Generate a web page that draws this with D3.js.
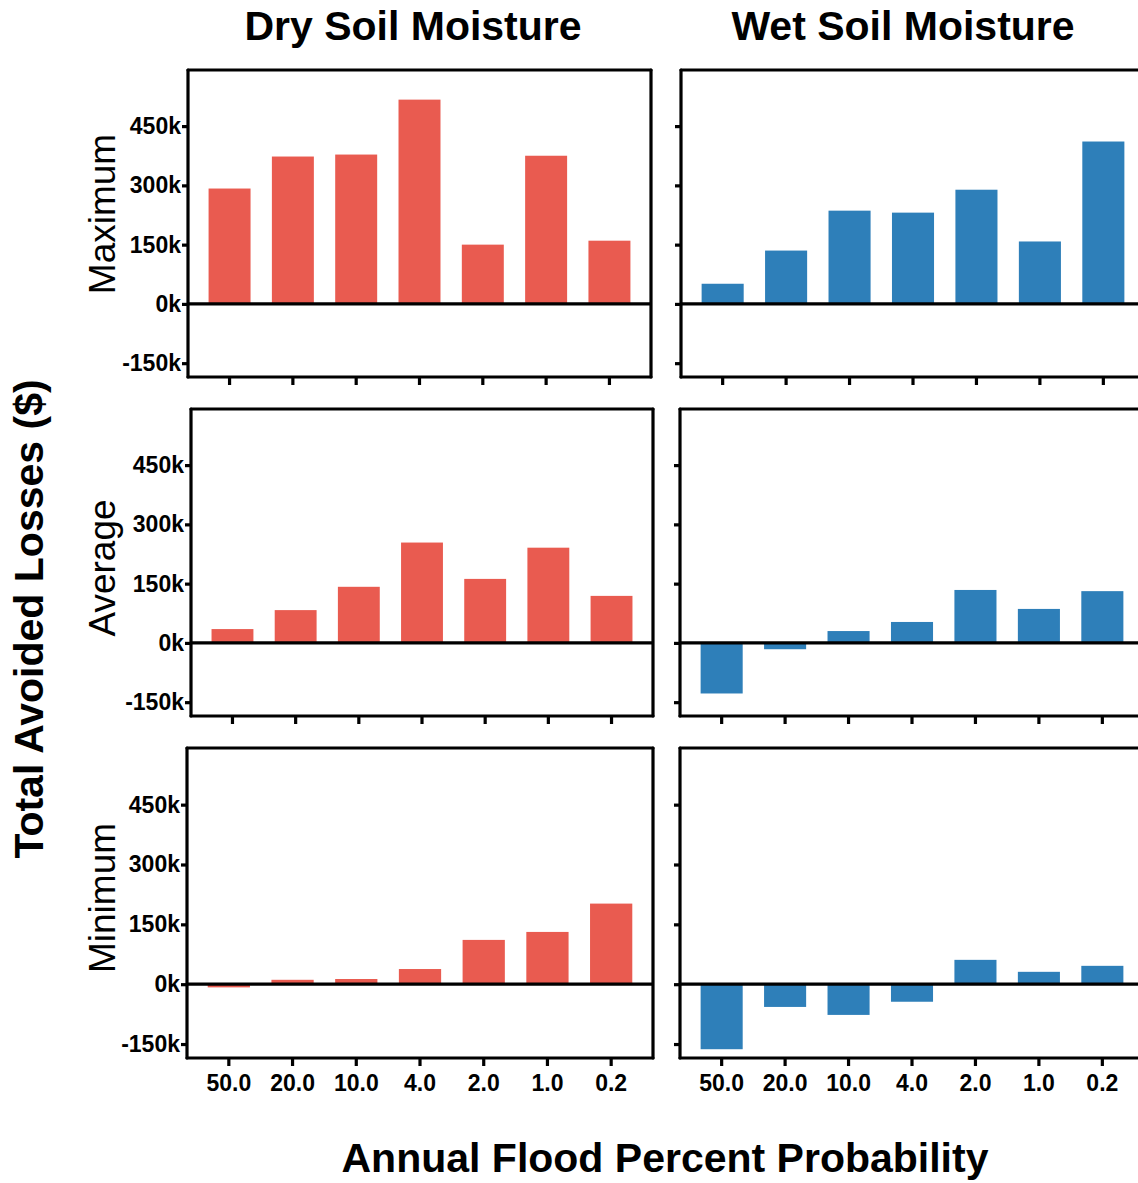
<!DOCTYPE html>
<html>
<head>
<meta charset="utf-8">
<script src="https://cdn.jsdelivr.net/npm/d3@7"></script>
<style>
  html, body { margin: 0; padding: 0; background: #fff; }
  svg { display: block; font-family: "Liberation Sans", Arial, Helvetica, sans-serif; }
</style>
</head>
<body>
<svg id="chart" width="1138" height="1183"></svg>
<script>
// Annual flood probability categories (percent)
const categories = ["50.0", "20.0", "10.0", "4.0", "2.0", "1.0", "0.2"];

// Total avoided losses ($) per scenario
const dryMaximum = [292000, 373000, 378000, 517000, 150000, 375000, 160000];
const wetMaximum = [51000, 135000, 236000, 231000, 289000, 158000, 411000];
const dryAverage = [35000, 83000, 142000, 254000, 162000, 241000, 119000];
const wetAverage = [-128000, -16000, 30000, 53000, 134000, 86000, 131000];
const dryMinimum = [-8000, 11000, 13000, 38000, 111000, 131000, 202000];
const wetMinimum = [-163000, -57000, -77000, -44000, 61000, 31000, 46000];

const yTicks = [-150000, 0, 150000, 300000, 450000];
const rowLabels = ["Maximum", "Average", "Minimum"];
const colTitles = ["Dry Soil Moisture", "Wet Soil Moisture"];
const seriesGrid = [
  [dryMaximum, wetMaximum],
  [dryAverage, wetAverage],
  [dryMinimum, wetMinimum]
];

const colors = ["#e95b50", "#2e7fb9"];
const yDomain = [-185000, 592000];

// panel placement
const rowTop = [70, 409, 748];
const rowBottom = [377, 716, 1058];
const colLeft = [[188, 681], [191, 680], [187, 680]];
const colRight = [[651, 1145], [653, 1144], [653, 1144]];
const rowLabelY = [214, 568, 898];

const svg = d3.select("#chart");
const fmt = d => (d / 1000) + "k";
const lineW = 3.2;

seriesGrid.forEach((row, r) => {
  const y = d3.scaleLinear().domain(yDomain).range([rowBottom[r], rowTop[r]]);
  row.forEach((values, c) => {
    const x0 = colLeft[r][c], x1 = colRight[r][c];
    const x = d3.scaleBand().domain(categories).range([x0, x1])
      .paddingInner(0.337).paddingOuter(0.325);
    const g = svg.append("g");

    // bars
    g.selectAll("rect.bar").data(values).join("rect")
      .attr("class", "bar")
      .attr("x", (d, i) => x(categories[i]))
      .attr("width", x.bandwidth())
      .attr("y", d => Math.min(y(d), y(0)))
      .attr("height", d => Math.abs(y(d) - y(0)))
      .attr("fill", colors[c]);

    // zero line
    g.append("line")
      .attr("x1", x0).attr("x2", x1)
      .attr("y1", y(0)).attr("y2", y(0))
      .attr("stroke", "#000").attr("stroke-width", lineW);

    // y axis
    const yAxis = d3.axisLeft(y).tickValues(yTicks).tickSize(6).tickPadding(1)
      .tickFormat(c === 0 ? fmt : () => "");
    const ya = g.append("g").attr("transform", `translate(${x0},0)`).call(yAxis);
    ya.select(".domain").remove();
    ya.selectAll(".tick line").attr("stroke-width", lineW);
    ya.selectAll(".tick text")
      .attr("font-size", 23).attr("font-weight", "bold").attr("fill", "#000")
      .attr("font-family", "'Liberation Sans', Arial, sans-serif");

    // x axis
    const xAxis = d3.axisBottom(x).tickSize(8).tickSizeOuter(0).tickPadding(9)
      .tickFormat(r === 2 ? (d => d) : () => "");
    const xa = g.append("g").attr("transform", `translate(0,${rowBottom[r]})`).call(xAxis);
    xa.select(".domain").remove();
    xa.selectAll(".tick line").attr("stroke-width", lineW);
    xa.selectAll(".tick text")
      .attr("font-size", 23).attr("font-weight", "bold").attr("fill", "#000")
      .attr("font-family", "'Liberation Sans', Arial, sans-serif");

    // frame
    const frame = [
      [x0, rowTop[r], x1, rowTop[r]],
      [x0, rowBottom[r], x1, rowBottom[r]],
      [x0, rowTop[r], x0, rowBottom[r]],
      [x1, rowTop[r], x1, rowBottom[r]]
    ];
    g.selectAll("line.frame").data(frame).join("line")
      .attr("class", "frame")
      .attr("x1", d => d[0]).attr("y1", d => d[1])
      .attr("x2", d => d[2]).attr("y2", d => d[3])
      .attr("stroke", "#000").attr("stroke-width", lineW)
      .attr("stroke-linecap", "round");
  });

  // row label
  svg.append("text")
    .attr("transform", `translate(115,${rowLabelY[r]}) rotate(-90)`)
    .attr("text-anchor", "middle")
    .attr("font-size", 37)
    .attr("fill", "#000")
    .text(rowLabels[r]);
});

// column titles
[413, 903].forEach((cx, i) => {
  svg.append("text")
    .attr("x", cx).attr("y", 40)
    .attr("text-anchor", "middle")
    .attr("font-size", 41).attr("font-weight", "bold")
    .attr("fill", "#000")
    .text(colTitles[i]);
});

// shared axis titles
svg.append("text")
  .attr("x", 665).attr("y", 1172)
  .attr("text-anchor", "middle")
  .attr("font-size", 41).attr("font-weight", "bold")
  .attr("fill", "#000")
  .text("Annual Flood Percent Probability");

svg.append("text")
  .attr("transform", "translate(43,619) rotate(-90)")
  .attr("text-anchor", "middle")
  .attr("font-size", 41).attr("font-weight", "bold")
  .attr("fill", "#000")
  .text("Total Avoided Losses ($)");
</script>
</body>
</html>
